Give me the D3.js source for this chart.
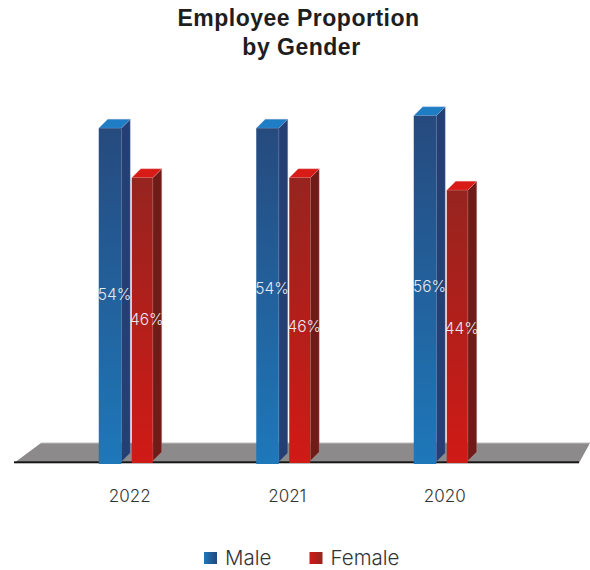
<!DOCTYPE html>
<html>
<head>
<meta charset="utf-8">
<script src="https://cdn.jsdelivr.net/npm/d3@7/dist/d3.min.js"></script>
<style>
html,body{margin:0;padding:0;background:#fff;}
svg{display:block;}
</style>
</head>
<body>
<div id="chart"></div>
<script>
const years = ["2022", "2021", "2020"];
const seriesNames = ["Male", "Female"];
const maleValues = [54, 54, 56];
const femaleValues = [46, 46, 44];
const titleLines = ["Employee Proportion", "by Gender"];

const width = 590, height = 570;
const baseY = 463;
const depthX = 9, depthY = 9;
const lightFont = "Inter, 'Liberation Sans', sans-serif";

const svg = d3.select("#chart").append("svg").attr("width", width).attr("height", height);
const defs = svg.append("defs");

function frontGradient(id, top, bottom) {
  const g = defs.append("linearGradient").attr("id", id)
    .attr("x1", 0).attr("y1", 0).attr("x2", 0).attr("y2", 1);
  g.append("stop").attr("offset", "0%").attr("stop-color", top);
  g.append("stop").attr("offset", "100%").attr("stop-color", bottom);
}
function swatchGradient(id, left, right) {
  const g = defs.append("linearGradient").attr("id", id);
  g.append("stop").attr("offset", "0%").attr("stop-color", left);
  g.append("stop").attr("offset", "100%").attr("stop-color", right);
}
frontGradient("maleFront", "#264a7e", "#1e78ba");
frontGradient("femaleFront", "#96241f", "#d01a16");
swatchGradient("maleSwatch", "#1e78ba", "#25467c");
swatchGradient("femaleSwatch", "#d01a16", "#96241f");

const palette = {
  Male: { front: "url(#maleFront)", side: "#243f73", top: "#1f7dc6", edge: "#9aa8c8", swatch: "url(#maleSwatch)" },
  Female: { front: "url(#femaleFront)", side: "#6f1c19", top: "#d91b17", edge: "#e3b0ad", swatch: "url(#femaleSwatch)" }
};

const x = d3.scaleBand().domain(years).range([51, 523.5]);
const series = d3.scaleOrdinal().domain(seriesNames).range([-31, 2]);
const barWidth = { Male: 22.5, Female: 21 };
const y = d3.scaleLinear().domain([0, 100]).range([baseY, baseY - 620]);

// Vertical adjustment of each value label from its bar's midpoint
const labelNudge = {
  Male: [4.5, -1.7, 2.7],
  Female: [5, 11.8, 7.6]
};

// Title
svg.append("g").selectAll("text").data(titleLines).join("text")
  .attr("x", (d, i) => i === 0 ? 298.5 : 301.5)
  .attr("y", (d, i) => 25.5 + i * 29.5)
  .attr("text-anchor", "middle")
  .attr("font-family", "'Liberation Sans', Arial, sans-serif")
  .attr("font-weight", 700)
  .attr("font-size", 23)
  .attr("letter-spacing", 0.5)
  .attr("fill", "#1e1e1e")
  .text(d => d);

// Floor plane with its dark front edge
svg.append("path")
  .attr("d", "M14,463 L41,443 H590 L579,463 Z")
  .attr("fill", "#8c8a8a");
svg.append("path")
  .attr("d", "M41,443 H590")
  .attr("stroke", "#bdbcbc").attr("stroke-width", 1).attr("fill", "none");
svg.append("rect")
  .attr("x", 14).attr("y", 461.3).attr("width", 565).attr("height", 2)
  .attr("fill", "#161616");

// Bars: side face, top face, front face
const rows = years.flatMap((year, i) => [
  { year, index: i, name: "Male", value: maleValues[i] },
  { year, index: i, name: "Female", value: femaleValues[i] }
]);

const bars = svg.append("g").selectAll("g").data(rows).join("g");

bars.each(function (d) {
  const g = d3.select(this);
  const c = palette[d.name];
  const x0 = x(d.year) + x.bandwidth() / 2 + series(d.name);
  const x1 = x0 + barWidth[d.name];
  const yTop = y(d.value);
  const yBottom = d.name === "Male" ? baseY + 1 : baseY;
  g.append("path")
    .attr("d", `M${x1},${yTop} L${x1 + depthX},${yTop - depthY} V${yBottom - depthY - 2} L${x1},${yBottom - 2} Z`)
    .attr("fill", c.side)
    .attr("stroke", c.edge).attr("stroke-width", 0.5).attr("stroke-opacity", 0.6);
  g.append("path")
    .attr("d", `M${x0},${yTop} L${x0 + depthX},${yTop - depthY} H${x1 + depthX} L${x1},${yTop} Z`)
    .attr("fill", c.top)
    .attr("stroke", c.edge).attr("stroke-width", 0.5).attr("stroke-opacity", 0.6);
  g.append("rect")
    .attr("x", x0).attr("y", yTop)
    .attr("width", x1 - x0).attr("height", yBottom - yTop)
    .attr("fill", c.front);
});

// Value labels sit above every bar face
svg.append("g").selectAll("text").data(rows).join("text")
  .attr("x", d => {
    const x0 = x(d.year) + x.bandwidth() / 2 + series(d.name);
    return x0 + (barWidth[d.name] + depthX) / 2;
  })
  .attr("y", d => (y(d.value) + baseY) / 2 + labelNudge[d.name][d.index])
  .attr("text-anchor", "middle")
  .attr("font-family", lightFont)
  .attr("font-weight", 300)
  .attr("font-size", 15.5)
  .attr("fill", "#e6e8f0")
  .text(d => d.value + "%");

// Year labels
svg.append("g").selectAll("text").data(years).join("text")
  .attr("x", d => x(d) + x.bandwidth() / 2)
  .attr("y", 502)
  .attr("text-anchor", "middle")
  .attr("font-family", lightFont)
  .attr("font-weight", 300)
  .attr("font-size", 17)
  .attr("fill", "#333")
  .text(d => d);

// Legend
const legendX = d3.scaleOrdinal().domain(seriesNames).range([204, 309.5]);
const legend = svg.append("g").selectAll("g").data(seriesNames).join("g")
  .attr("transform", d => `translate(${legendX(d)},0)`);
legend.append("rect")
  .attr("x", 0).attr("y", 552).attr("width", 13).attr("height", 12)
  .attr("fill", d => palette[d].swatch);
legend.append("text")
  .attr("x", 21).attr("y", 565)
  .attr("font-family", lightFont)
  .attr("font-weight", 300)
  .attr("font-size", 20.5)
  .attr("fill", "#333")
  .text(d => d);
</script>
</body>
</html>
